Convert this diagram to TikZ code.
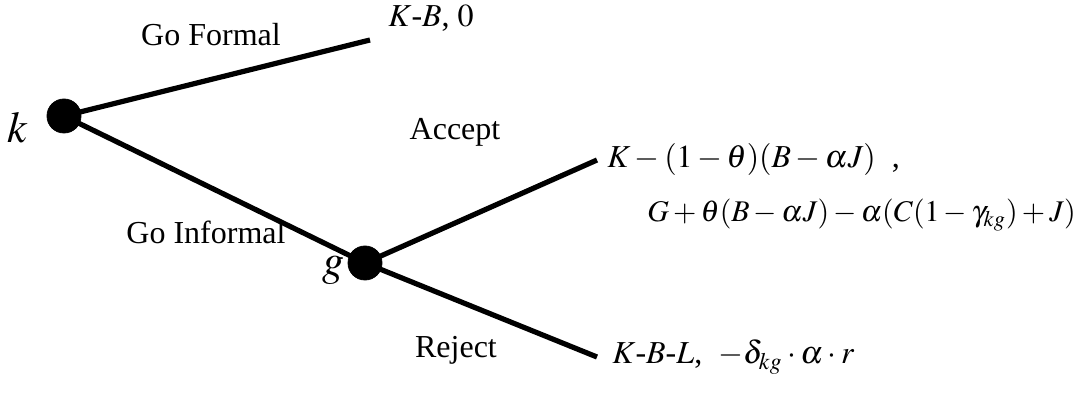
\documentclass[tikz,border=0pt]{standalone}
\usepackage{amsmath, amssymb}
\usepackage{mathptmx}
\usepackage{fontspec}
\setmainfont{Liberation Serif}
\usepackage{tikz}
\usetikzlibrary{positioning, calc}

\tikzset{
  decision/.style={circle, fill=black, draw=black, minimum size=17pt, inner sep=0pt},
  branch/.style={line width=2.6pt},
  actlabel/.style={font=\fontsize{16}{18}\selectfont, inner sep=0pt},
  payoff/.style={font=\fontsize{16}{19}\selectfont, inner sep=0pt, anchor=west}
}

\begin{document}
\begin{tikzpicture}[x=0.5pt, y=-0.5pt]
    \useasboundingbox (0,0) rectangle (1084,401);
    % Nos de decisao
    \node[decision] (k) at (64,116) {};
    \node[decision] (g) at (365,263) {};
    \node[font=\fontsize{22}{24}\selectfont] (klab) at (18,128) {$k$};
    \node[font=\fontsize{22}{24}\selectfont] (glab) at (333,270) {$g$};
    % Extremidades
    \coordinate (formal) at (370,40);
    \coordinate (accept) at (597,160);
    \coordinate (reject) at (597,357);
    % Ramos
    \draw[branch] (k.center) -- (formal);
    \draw[branch] (k.center) -- (g.center);
    \draw[branch] (g.center) -- (accept);
    \draw[branch] (g.center) -- (reject);
    % Rotulos das acoes
    \node[actlabel] (goformal) at (211,35) {Go Formal};
    \node[actlabel] (goinformal) at (206,232) {Go Informal};
    \node[actlabel] (acc) at (455,132) {Accept};
    \node[actlabel] (rej) at (456,350) {Reject};
    % Pagamentos
    \node[payoff] (payformal) at (388,18) {$K$-$B$, $0$};
    \node[payoff] (payacc1) at (607,160) {$K-(1-\theta)(B-\alpha J)$\ \ ,};
    \node[payoff, font=\fontsize{15}{18}\selectfont] (payacc2) at (647,215)
      {\medmuskip=2.5mu$G+\theta(B-\alpha J)-\alpha(C(1-\gamma_{kg})+J)$};
    \node[payoff] (payrej) at (612,357) {$K$-$B$-$L$, \ $-\delta_{kg}\cdot\alpha\cdot r$};
  \end{tikzpicture}
\end{document}
